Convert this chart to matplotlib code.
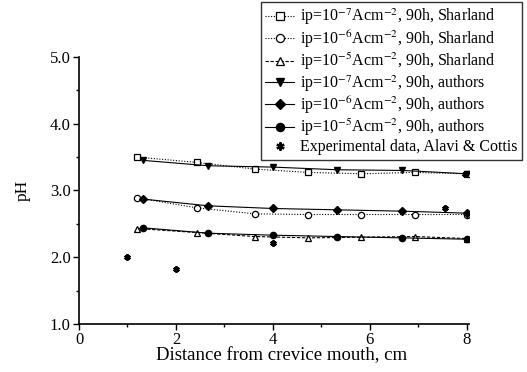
import matplotlib
matplotlib.use("Agg")
import matplotlib.pyplot as plt
from matplotlib.ticker import MultipleLocator

plt.rcParams["font.family"] = ["Liberation Serif", "DejaVu Serif"]
plt.rcParams["mathtext.fontset"] = "stix"

# Sharland model points
x_sh = [1.2, 2.43, 3.63, 4.73, 5.83, 6.93, 8.0]
ph_sh_7 = [3.50, 3.42, 3.32, 3.27, 3.25, 3.27, 3.25]
ph_sh_6 = [2.89, 2.74, 2.65, 2.64, 2.64, 2.64, 2.64]
ph_sh_5 = [2.43, 2.37, 2.31, 2.29, 2.30, 2.31, 2.28]

# authors' model points
x_au = [1.33, 2.67, 4.0, 5.33, 6.67, 8.0]
ph_au_7 = [3.45, 3.37, 3.35, 3.31, 3.30, 3.25]
ph_au_6 = [2.87, 2.77, 2.73, 2.71, 2.69, 2.66]
ph_au_5 = [2.44, 2.36, 2.33, 2.31, 2.29, 2.27]

# experimental data, Alavi & Cottis
x_exp = [1.0, 2.0, 4.0, 7.55, 7.97]
ph_exp = [2.00, 1.83, 2.21, 2.74, 3.25]

lab_sh = "Sharland"
lab_au = "authors"

fig = plt.figure(figsize=(5.27, 3.72), dpi=100)
ax = fig.add_axes([0.150, 0.129, 0.740, 0.718])

kw = dict(color="black", lw=0.8, ms=4.5)
ax.plot(x_sh, ph_sh_7, ls=(0, (1, 1.5)), marker="s", mfc="white", mew=0.9,
        label=f"ip=10$^{{-7}}$Acm$^{{-2}}$, 90h, {lab_sh}", **kw)
ax.plot(x_sh, ph_sh_6, ls=(0, (1, 1.5)), marker="o", mfc="white", mew=0.9,
        label=f"ip=10$^{{-6}}$Acm$^{{-2}}$, 90h, {lab_sh}", **kw)
ax.plot(x_sh, ph_sh_5, ls=(0, (3, 1.5)), marker="^", mfc="white", mew=0.9,
        label=f"ip=10$^{{-5}}$Acm$^{{-2}}$, 90h, {lab_sh}", **kw)
ax.plot(x_au, ph_au_7, ls="-", marker="v", label=f"ip=10$^{{-7}}$Acm$^{{-2}}$, 90h, {lab_au}", **kw)
ax.plot(x_au, ph_au_6, ls="-", marker="D", label=f"ip=10$^{{-6}}$Acm$^{{-2}}$, 90h, {lab_au}",
        color="black", lw=0.8, ms=4)
ax.plot(x_au, ph_au_5, ls="-", marker="o", label=f"ip=10$^{{-5}}$Acm$^{{-2}}$, 90h, {lab_au}", **kw)
ax.plot(x_exp, ph_exp, ls="none", marker=(6, 2, 0), color="black", ms=4.5, mew=1.6,
        label="Experimental data, Alavi & Cottis")

ax.set_xlim(0, 8.05)
ax.set_ylim(1.0, 5.0)
ax.xaxis.set_major_locator(MultipleLocator(2))
ax.xaxis.set_minor_locator(MultipleLocator(1))
ax.yaxis.set_major_locator(MultipleLocator(1))
ax.yaxis.set_minor_locator(MultipleLocator(0.5))
ax.yaxis.set_major_formatter(lambda v, p: f"{v:.1f}")
for s in ("top", "right"):
    ax.spines[s].set_visible(False)
for s in ("left", "bottom"):
    ax.spines[s].set_linewidth(1.2)
ax.tick_params(which="major", direction="out", length=4, width=1, labelsize=12, pad=2)
ax.tick_params(which="minor", direction="out", length=2, width=1)
ax.set_xlabel("Distance from crevice mouth, cm", fontsize=13.5, labelpad=-1, x=0.52)
ax.set_ylabel("pH", fontsize=12.5, labelpad=14)

leg = ax.legend(loc="upper right", bbox_to_anchor=(0.9905, 0.9946),
                bbox_transform=fig.transFigure, fontsize=11.5, frameon=True,
                fancybox=False, edgecolor="black", handlelength=1.8,
                handletextpad=0.35, labelspacing=0.06, borderpad=0.3,
                borderaxespad=0, markerscale=1.3)
leg.get_frame().set_linewidth(1.0)

fig.savefig("out.png", dpi=100)
